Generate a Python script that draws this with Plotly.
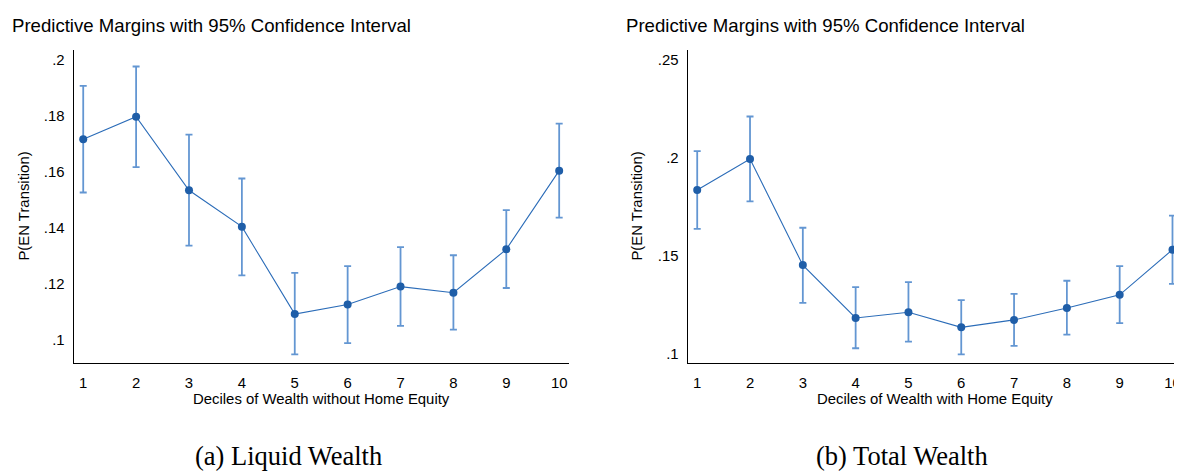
import plotly.graph_objects as go

# The page renders the figure with an 8px body margin; work in page pixels
OFF = 8
PW, PH = 1182, 472
W, H = PW - OFF, PH - OFF

deciles = [1, 2, 3, 4, 5, 6, 7, 8, 9, 10]

# (a) Liquid wealth
liq_mean = [0.1717, 0.1798, 0.1535, 0.1405, 0.1093, 0.1127, 0.1191, 0.1169, 0.1324, 0.1605]
liq_lo   = [0.1527, 0.1618, 0.1337, 0.1231, 0.0949, 0.0989, 0.1051, 0.1037, 0.1186, 0.1437]
liq_hi   = [0.1908, 0.1977, 0.1734, 0.1577, 0.1240, 0.1264, 0.1332, 0.1303, 0.1464, 0.1773]

# (b) Total wealth
tot_mean = [0.1835, 0.1994, 0.1451, 0.1181, 0.1210, 0.1133, 0.1171, 0.1232, 0.1299, 0.1530]
tot_lo   = [0.1636, 0.1777, 0.1258, 0.1026, 0.1060, 0.0995, 0.1038, 0.1096, 0.1154, 0.1355]
tot_hi   = [0.2034, 0.2211, 0.1642, 0.1338, 0.1364, 0.1272, 0.1304, 0.1371, 0.1446, 0.1704]

liq_ticks = [0.10, 0.12, 0.14, 0.16, 0.18, 0.20]
liq_ticktext = [".1", ".12", ".14", ".16", ".18", ".2"]
tot_ticks = [0.10, 0.15, 0.20, 0.25]
tot_ticktext = [".1", ".15", ".2", ".25"]

title_text = "Predictive Margins with 95% Confidence Interval"
ytitle = "P(EN Transition)"
xtitle_a = "Deciles of Wealth without Home Equity"
xtitle_b = "Deciles of Wealth with Home Equity"
caption_a = "(a) Liquid Wealth"
caption_b = "(b) Total Wealth"

LINE = "#2b6cb8"
MARK = "#1f5ea8"
ERR = "#6396d2"
SANS = "Liberation Sans, Arial, sans-serif"
SERIF = "Liberation Serif, Times New Roman, serif"
FS = 14.9

def px_x(p):
    return (p - OFF) / W

def px_y(p):
    return 1 - (p - OFF) / H

fig = go.Figure()

def add_panel(mean, lo, hi, xa, ya):
    fig.add_trace(go.Scatter(
        x=deciles, y=mean, xaxis=xa, yaxis=ya, mode="lines+markers",
        line=dict(color=LINE, width=1.1),
        marker=dict(color=MARK, size=8),
        error_y=dict(type="data", symmetric=False,
                     array=[h - m for h, m in zip(hi, mean)],
                     arrayminus=[m - l for m, l in zip(mean, lo)],
                     color=ERR, thickness=1.8, width=3.5),
        showlegend=False, hoverinfo="skip",
    ))

add_panel(liq_mean, liq_lo, liq_hi, "x", "y")
add_panel(tot_mean, tot_lo, tot_hi, "x2", "y2")

ydom = [px_y(363.3), px_y(50)]
axis_common = dict(showgrid=False, zeroline=False, showline=True, linecolor="black",
                   linewidth=1.3, ticks="", tickfont=dict(family=SANS, size=FS, color="black"))

fig.update_layout(
    width=W, height=H, margin=dict(l=0, r=0, t=0, b=0),
    paper_bgcolor="white", plot_bgcolor="white",
    xaxis=dict(domain=[px_x(73.7), px_x(568.7)], range=[0.82, 10.18], anchor="y",
               tickvals=deciles, ticklabelstandoff=6, **axis_common),
    yaxis=dict(domain=ydom, range=[0.0917, 0.2036], anchor="x",
               tickvals=liq_ticks, ticktext=liq_ticktext, ticklabelstandoff=5, **axis_common),
    xaxis2=dict(domain=[px_x(687.7), 1.0], range=[0.82, 10.18], anchor="y2",
                tickvals=deciles, ticklabelstandoff=6, **axis_common),
    yaxis2=dict(domain=ydom, range=[0.0949, 0.2551], anchor="x2",
                tickvals=tot_ticks, ticktext=tot_ticktext, ticklabelstandoff=5, **axis_common),
)

ann = []
for x0, t in [(10, title_text), (624, title_text)]:
    ann.append(dict(x=px_x(x0), y=px_y(25), xref="paper", yref="paper", text=t,
                    showarrow=False, xanchor="left", yanchor="middle",
                    font=dict(family=SANS, size=18.6, color="black")))
for xc in [24, 637]:
    ann.append(dict(x=px_x(xc), y=px_y(206.6), xref="paper", yref="paper", text=ytitle,
                    showarrow=False, xanchor="center", yanchor="middle", textangle=-90,
                    font=dict(family=SANS, size=FS, color="black")))
for xc, t in [((73.7 + 568.7) / 2, xtitle_a), ((687.7 + 1182) / 2, xtitle_b)]:
    ann.append(dict(x=px_x(xc), y=px_y(399.3), xref="paper", yref="paper", text=t,
                    showarrow=False, xanchor="center", yanchor="middle",
                    font=dict(family=SANS, size=FS, color="black")))
for xc, t in [(288.3, caption_a), (901.8, caption_b)]:
    ann.append(dict(x=px_x(xc), y=px_y(472), xref="paper", yref="paper", text=t,
                    showarrow=False, xanchor="center", yanchor="bottom", borderpad=0,
                    font=dict(family=SERIF, size=26.5, color="black")))
fig.update_layout(annotations=ann)

fig.write_html("out.html")
